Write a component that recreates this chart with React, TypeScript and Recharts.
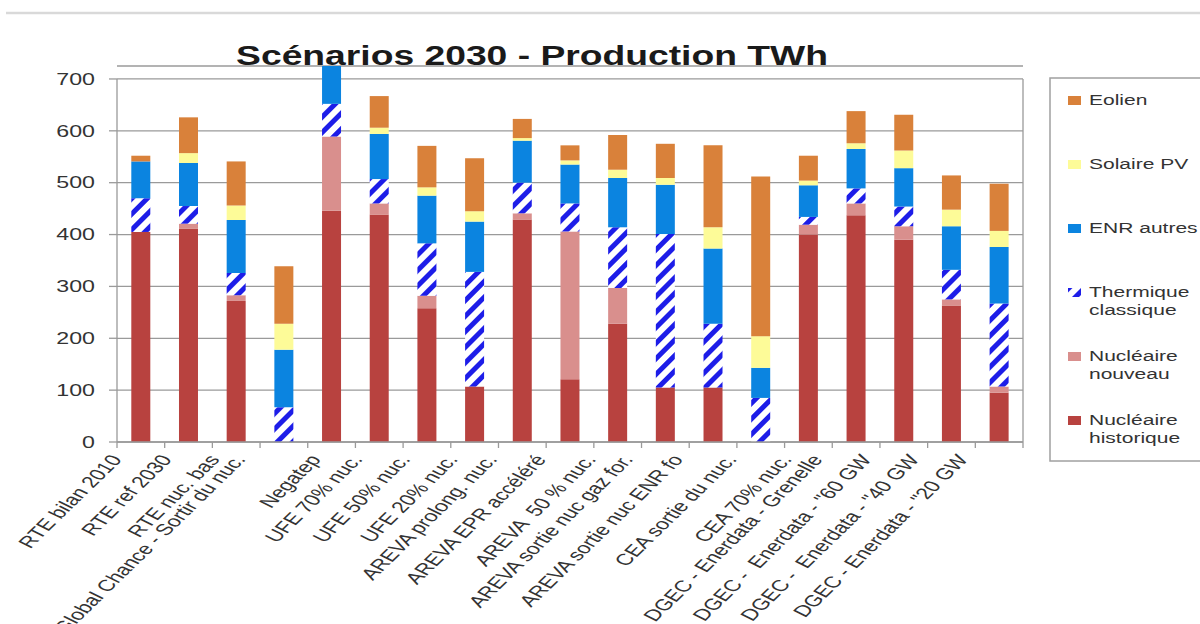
import React from "react";
import { BarChart, Bar, XAxis, YAxis, CartesianGrid, ReferenceLine } from "recharts";

const categories = [
  "RTE bilan 2010",
  "RTE ref 2030",
  "RTE nuc. bas",
  "Global Chance - Sortir du nuc.",
  "Negatep",
  "UFE 70% nuc.",
  "UFE 50% nuc.",
  "UFE 20% nuc.",
  "AREVA prolong. nuc.",
  "AREVA EPR accéléré",
  "AREVA  50 % nuc.",
  "AREVA sortie nuc gaz for.",
  "AREVA sortie nuc ENR fo",
  "CEA sortie du nuc.",
  "CEA 70% nuc.",
  "DGEC - Enerdata - Grenelle",
  "DGEC -  Enerdata - \"60 GW",
  "DGEC -  Enerdata - \"40 GW",
  "DGEC - Enerdata - \"20 GW",
];

const nucleaireHistorique = [405, 411, 272, 0, 446, 438, 258, 107, 429, 121, 228, 105, 105, 0, 400, 437, 390, 263, 95];
const nucleaireNouveau = [0, 10, 11, 0, 143, 22, 24, 0, 12, 285, 69, 0, 0, 0, 19, 23, 26, 12, 12];
const thermiqueClassique = [65, 34, 43, 67, 63, 47, 101, 221, 59, 54, 117, 296, 123, 85, 15, 29, 38, 57, 160];
const enrAutres = [71, 83, 102, 111, 73, 87, 92, 97, 81, 75, 95, 95, 145, 58, 61, 76, 74, 84, 109];
const solairePV = [0, 19, 28, 50, 0, 12, 16, 20, 5, 8, 16, 13, 41, 61, 9, 11, 34, 32, 31];
const eolien = [11, 69, 85, 111, 0, 61, 80, 102, 37, 29, 67, 66, 158, 308, 48, 62, 69, 66, 91];

const yTicks = [0, 100, 200, 300, 400, 500, 600, 700];

const seriesKeys = ["nucHist", "nucNew", "thermique", "enr", "solaire", "eolien"];
const seriesNames = [
  "Nucléaire historique",
  "Nucléaire nouveau",
  "Thermique classique",
  "ENR autres",
  "Solaire PV",
  "Eolien",
];
const seriesFills = ["#B8423F", "#D98F8D", "url(#hatch)", "#0B84E0", "#FDFB98", "#D9813A"];
const legendFills = ["#B8423F", "#D98F8D", "url(#hatchLegend)", "#0B84E0", "#FDFB98", "#D9813A"];

const data = categories.map((name, i) => ({
  name,
  nucHist: nucleaireHistorique[i],
  nucNew: nucleaireNouveau[i],
  thermique: thermiqueClassique[i],
  enr: enrAutres[i],
  solaire: solairePV[i],
  eolien: eolien[i],
}));

const FONT = "'Liberation Sans', Arial, sans-serif";
const AXIS = "#9a9a9a";
const TEXT = "#333333";
const STRETCH = 1.45;
const HATCH_BLUE = "#1d1de8";

const XTick = (props: any) => {
  const { x, y, payload, index, width, visibleTicksCount } = props;
  const count = visibleTicksCount || categories.length;
  const band = width ? width / count : 47.7;
  const label = String(payload.value);
  const shift = 15 + 1.2 * label.length;
  return (
    <g>
      <line x1={x - band / 2} y1={y} x2={x - band / 2} y2={y + 6} stroke={AXIS} strokeWidth={1.3} />
      {index === count - 1 && (
        <line x1={x + band / 2} y1={y} x2={x + band / 2} y2={y + 6} stroke={AXIS} strokeWidth={1.3} />
      )}
      <text
        transform={`translate(${x - shift},${y + 11}) scale(${STRETCH},1) rotate(-54.5)`}
        textAnchor="end"
        dy="0.72em"
        fontSize={16}
        fontFamily={FONT}
        fill={TEXT}
        style={{ whiteSpace: "pre" }}
      >
        {label}
      </text>
    </g>
  );
};

const YTick = (props: any) => {
  const { x, y, payload } = props;
  return (
    <text
      transform={`translate(${x},${y}) scale(${STRETCH},1)`}
      textAnchor="end"
      dy="0.36em"
      fontSize={16}
      fontFamily={FONT}
      fill={TEXT}
    >
      {payload.value}
    </text>
  );
};

const Legend = () => {
  const order = [5, 4, 3, 2, 1, 0];
  return (
    <g>
      <defs>
        <pattern id="hatchLegend" width="11" height="11" patternUnits="userSpaceOnUse" patternTransform="rotate(45)">
          <rect width="11" height="11" fill="#ffffff" />
          <rect width="5" height="11" fill={HATCH_BLUE} />
        </pattern>
      </defs>
      <rect x={1050} y={78} width={170} height={383} fill="#ffffff" stroke="#a0a0a0" strokeWidth={1.5} />
      {order.map((si, row) => {
        const cy = 100 + row * 64;
        const name = seriesNames[si];
        const lines = name.length > 12 && name.indexOf(" ") > 0
          ? [name.slice(0, name.indexOf(" ")), name.slice(name.indexOf(" ") + 1)]
          : [name];
        return (
          <g key={si}>
            <rect x={1068} y={cy - 4} width={13} height={9} fill={legendFills[si]} />
            {lines.map((ln, li) => (
              <text
                key={li}
                transform={`translate(1089,${cy + 5 + li * 18}) scale(${STRETCH},1)`}
                fontSize={14.5}
                fontFamily={FONT}
                fill={TEXT}
              >
                {ln}
              </text>
            ))}
          </g>
        );
      })}
    </g>
  );
};

export default function App() {
  return (
    <div style={{ position: "absolute", left: 0, top: 0, width: 1200, height: 624, background: "#ffffff", overflow: "hidden" }}>
      <div style={{ position: "absolute", left: 0, top: 0 }}>
        <BarChart
          width={1200}
          height={624}
          data={data}
          margin={{ top: 66, right: 177, bottom: 0, left: 0 }}
          barCategoryGap="30%"
        >
          <defs>
            <pattern id="hatch" width="11" height="11" patternUnits="userSpaceOnUse" patternTransform="rotate(45)">
              <rect width="11" height="11" fill="#ffffff" />
              <rect width="5" height="11" fill={HATCH_BLUE} />
            </pattern>
          </defs>
          <CartesianGrid vertical={false} stroke={AXIS} strokeWidth={1.3} />
          <XAxis
            dataKey="name"
            interval={0}
            height={182}
            tickSize={0}
            tickMargin={0}
            tickLine={false}
            axisLine={{ stroke: AXIS, strokeWidth: 1.3 }}
            tick={<XTick />}
          />
          <YAxis
            width={117}
            domain={[0, 725]}
            ticks={yTicks}
            interval={0}
            tickSize={8}
            tickMargin={14}
            tickLine={{ stroke: AXIS, strokeWidth: 1.3 }}
            axisLine={false}
            tick={<YTick />}
          />
          <ReferenceLine
            segment={[{ x: categories[0], y: 0 }, { x: categories[0], y: 700 }]}
            position="start"
            stroke={AXIS}
            strokeWidth={1.3}
          />
          <ReferenceLine
            segment={[{ x: categories[categories.length - 1], y: 0 }, { x: categories[categories.length - 1], y: 700 }]}
            position="end"
            stroke={AXIS}
            strokeWidth={1.3}
          />
          {seriesKeys.map((k, i) => (
            <Bar key={k} dataKey={k} name={seriesNames[i]} stackId="a" fill={seriesFills[i]} isAnimationActive={false} />
          ))}
        </BarChart>
      </div>
      <svg width={1200} height={624} style={{ position: "absolute", left: 0, top: 0, pointerEvents: "none" }}>
        <line x1={6} y1={13} x2={1200} y2={13} stroke="#d9d9d9" strokeWidth={2.5} />
        <text
          transform={`translate(532,65) scale(1.38,1)`}
          textAnchor="middle"
          fontSize={27}
          fontWeight="bold"
          fontFamily={FONT}
          fill="#1a1a1a"
        >
          Scénarios 2030 - Production TWh
        </text>
        <Legend />
      </svg>
    </div>
  );
}
